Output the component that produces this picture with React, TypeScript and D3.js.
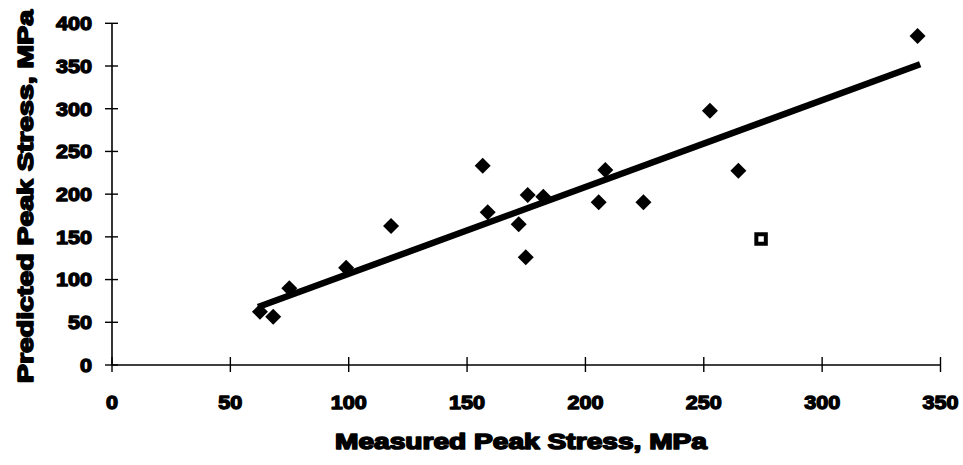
import React from 'react';
import * as d3 from 'd3';

// Measured vs predicted peak stress (MPa)
const measured = [62.5, 68.1, 74.9, 98.9, 117.9, 156.6, 158.7, 171.8, 174.8, 175.6, 182.2, 205.6, 208.4, 224.5, 252.6, 264.6, 340.3];
const predicted = [62.4, 56.5, 89.8, 113.9, 162.7, 233.3, 178.8, 164.7, 126.1, 199.0, 197.0, 190.5, 228.3, 190.5, 297.7, 227.5, 385.2];

// Excluded point, drawn as an open square
const outlierMeasured = [274.2];
const outlierPredicted = [147.5];

// Fitted line end points
const fitMeasured = [61.7, 341.4];
const fitPredicted = [67.9, 352.0];

const xTicks = [0, 50, 100, 150, 200, 250, 300, 350];
const yTicks = [0, 50, 100, 150, 200, 250, 300, 350, 400];

const W = 963;
const H = 465;
const FONT = '"Liberation Sans", Arial, sans-serif';

export default function App() {
  const x = d3.scaleLinear().domain([0, 350]).range([112, 940.5]);
  const y = d3.scaleLinear().domain([0, 400]).range([365, 23.3]);

  const diamond = d3.symbol(d3.symbolSquare, 128)() as string;
  const square = d3.symbol(d3.symbolSquare, 90)() as string;
  const fitLine = d3
    .line<number>()
    .x((_, i) => x(fitMeasured[i]))
    .y((d) => y(d))(fitPredicted) as string;

  const labelStyle = {
    fontFamily: FONT,
    fontWeight: 700,
    stroke: '#000',
    strokeWidth: 1.3,
    strokeLinejoin: 'round',
    fill: '#000',
  } as React.CSSProperties;

  // heavy digits: fixed advance per character
  const digitWidth = 12;

  return (
    <svg
      width={W}
      height={H}
      viewBox={`0 0 ${W} ${H}`}
      style={{ position: 'absolute', left: 0, top: 0, background: '#fff' }}
    >
      <rect width={W} height={H} fill="#fff" />

      {/* axes */}
      <line x1={x(0)} x2={x(0)} y1={y(400)} y2={y(0)} stroke="#000" strokeWidth={1.6} />
      <line x1={x(0)} x2={x(350)} y1={y(0)} y2={y(0)} stroke="#000" strokeWidth={1.6} />

      {yTicks.map((t) => (
        <g key={'y' + t}>
          <line x1={x(0) - 7} x2={x(0) + 6} y1={y(t)} y2={y(t)} stroke="#000" strokeWidth={1.4} />
          <text
            x={92}
            y={y(t) + 6.8}
            textAnchor="end"
            fontSize={19}
            textLength={String(t).length * digitWidth}
            lengthAdjust="spacingAndGlyphs"
            style={labelStyle}
          >
            {t}
          </text>
        </g>
      ))}

      {xTicks.map((t) => (
        <g key={'x' + t}>
          <line x1={x(t)} x2={x(t)} y1={y(0) - 8} y2={y(0) + 7} stroke="#000" strokeWidth={1.4} />
          <text
            x={x(t)}
            y={409}
            textAnchor="middle"
            fontSize={19}
            textLength={String(t).length * digitWidth}
            lengthAdjust="spacingAndGlyphs"
            style={labelStyle}
          >
            {t}
          </text>
        </g>
      ))}

      {/* axis titles */}
      <text
        x={521}
        y={449}
        textAnchor="middle"
        fontSize={22}
        textLength={372}
        lengthAdjust="spacingAndGlyphs"
        style={{ ...labelStyle, strokeWidth: 1.6 }}
      >
        Measured Peak Stress, MPa
      </text>
      <text
        transform={`translate(33,196.5) rotate(-90)`}
        textAnchor="middle"
        fontSize={22}
        textLength={373}
        lengthAdjust="spacingAndGlyphs"
        style={{ ...labelStyle, strokeWidth: 1.6 }}
      >
        Predicted Peak Stress, MPa
      </text>

      {/* data points */}
      {measured.map((m, i) => (
        <path
          key={'p' + i}
          d={diamond}
          transform={`translate(${x(m)},${y(predicted[i])}) rotate(45)`}
          fill="#000"
        />
      ))}

      {/* fitted line */}
      <path d={fitLine} fill="none" stroke="#000" strokeWidth={6.5} strokeLinecap="butt" />

      {outlierMeasured.map((m, i) => (
        <path
          key={'o' + i}
          d={square}
          transform={`translate(${x(m)},${y(outlierPredicted[i])})`}
          fill="#fff"
          stroke="#000"
          strokeWidth={4}
        />
      ))}
    </svg>
  );
}
